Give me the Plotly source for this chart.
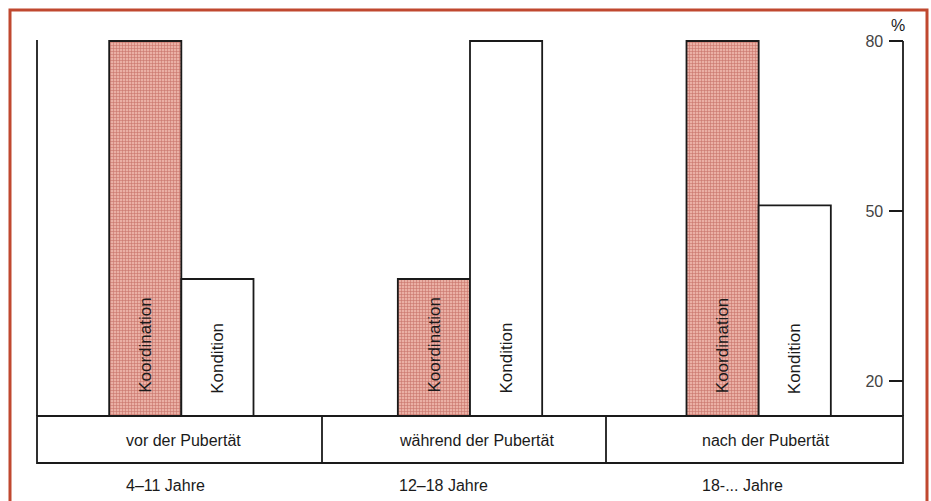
import plotly.graph_objects as go

# ---- data ----
phases = ["vor der Pubertät", "während der Pubertät", "nach der Pubertät"]
ages = ["4–11 Jahre", "12–18 Jahre", "18-... Jahre"]
koordination = [80, 38, 80]
kondition = [38, 80, 51]
y_ticks = [20, 50, 80]

W, H = 931, 501
L, R, T, B = 37, 28, 20, 85
plot_h = H - T - B
plot_w = W - L - R
px_per_unit = 340 / 60.0
y_top = 20 + (381 - T) / px_per_unit
y_bot = 20 - (416 - 381) / px_per_unit


def px_x(X):
    return (X - L) / plot_w


def px_y(Y):
    return (H - B - Y) / plot_h


FONT = "Liberation Sans, Arial, sans-serif"

fig = go.Figure()
fig.add_trace(go.Bar(
    x=phases, y=[v - y_bot for v in koordination], base=y_bot, name="Koordination",
    marker=dict(color="#e6a89c",
                line=dict(color="#1a1a1a", width=1.8),
                pattern=dict(shape="+", size=3, solidity=0.35,
                             fgcolor="#c8736a", bgcolor="#eab0a5", fillmode="replace")),
    showlegend=False,
))
fig.add_trace(go.Bar(
    x=phases, y=[v - y_bot for v in kondition], base=y_bot, name="Kondition",
    marker=dict(color="white", line=dict(color="#1a1a1a", width=1.8)),
    showlegend=False,
))

fig.update_layout(
    width=W, height=H,
    margin=dict(l=L, r=R, t=T, b=B),
    paper_bgcolor="white", plot_bgcolor="white",
    barmode="group", bargap=0.5, bargroupgap=0,
    font=dict(family=FONT, size=16, color="#1a1a1a"),
    xaxis=dict(range=[-0.5, 2.5], showticklabels=False, showgrid=False,
               zeroline=False, showline=False, ticks=""),
    yaxis=dict(range=[y_bot, y_top], side="right", tickvals=y_ticks,
               ticks="inside", ticklen=14, tickwidth=1.8, tickcolor="#1a1a1a",
               ticklabelposition="inside", ticklabelstandoff=6,
               showgrid=False, zeroline=False,
               showline=False, tickfont=dict(size=16, family=FONT)),
)

LC = "#1a1a1a"
shapes = []
# red frame
shapes.append(dict(type="rect", xref="paper", yref="paper",
                   x0=px_x(10), x1=px_x(927), y0=px_y(530), y1=px_y(10),
                   line=dict(color="#c0482f", width=3), fillcolor="rgba(0,0,0,0)"))
# left vertical line
shapes.append(dict(type="line", xref="paper", yref="paper", x0=0, x1=0,
                   y0=0, y1=px_y(40), line=dict(color=LC, width=1.8)))
# right axis line
shapes.append(dict(type="line", xref="paper", yref="y", x0=1, x1=1,
                   y0=y_bot, y1=80, line=dict(color=LC, width=1.8)))
# table
tb = px_y(463)
shapes.append(dict(type="rect", xref="paper", yref="paper", x0=0, x1=1, y0=tb, y1=0,
                   line=dict(color=LC, width=1.8), fillcolor="rgba(0,0,0,0)"))
for xd in [322, 606]:
    shapes.append(dict(type="line", xref="paper", yref="paper", x0=px_x(xd), x1=px_x(xd),
                       y0=tb, y1=0, line=dict(color=LC, width=1.8)))
fig.update_layout(shapes=shapes)

ann = []
text_start = [124, 397, 700]
for i in range(3):
    ann.append(dict(xref="paper", yref="paper", x=px_x(text_start[i]), y=px_y(440),
                    text=phases[i], showarrow=False, xanchor="left", yanchor="middle",
                    font=dict(size=16, family=FONT)))
    ann.append(dict(xref="paper", yref="paper", x=px_x(text_start[i]), y=px_y(486),
                    text=ages[i], showarrow=False, xanchor="left", yanchor="middle",
                    font=dict(size=16, family=FONT)))
    ann.append(dict(xref="x", yref="y", x=phases[i], xshift=-36,
                    y=y_bot + 21 / px_per_unit, text="Koordination", textangle=-90,
                    showarrow=False, xanchor="center", yanchor="bottom",
                    font=dict(size=17, family=FONT)))
    ann.append(dict(xref="x", yref="y", x=phases[i], xshift=36,
                    y=y_bot + 20 / px_per_unit, text="Kondition", textangle=-90,
                    showarrow=False, xanchor="center", yanchor="bottom",
                    font=dict(size=17, family=FONT)))
ann.append(dict(xref="paper", yref="paper", x=px_x(898), y=px_y(25),
                text="%", showarrow=False, xanchor="center", yanchor="middle",
                font=dict(size=16, family=FONT)))
fig.update_layout(annotations=ann)

fig.write_html("out.html", config={"displayModeBar": False},
               post_script="document.body.style.margin='0';document.body.style.padding='0';")
